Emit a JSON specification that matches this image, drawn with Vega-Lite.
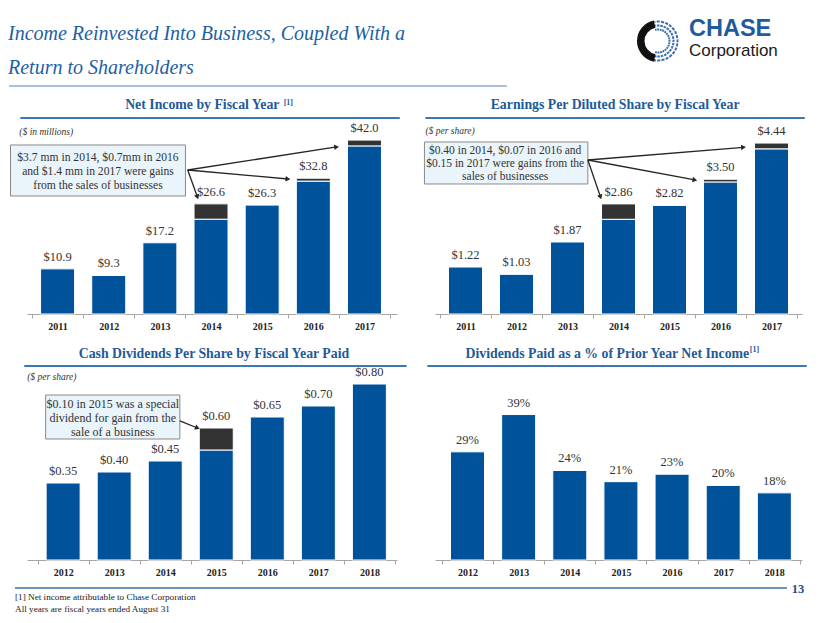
{
  "$schema": "https://vega.github.io/schema/vega-lite/v6.json",
  "padding": {"left": 7, "top": 10, "right": 4, "bottom": 4},
  "background": "white",
  "bounds": "flush",
  "columns": 2,
  "spacing": {"row": 28, "column": 38},
  "config": {
    "view": {"stroke": null},
    "font": "Liberation Serif",
    "axisX": {"domainColor": "#a6a6a6", "tickColor": "#a6a6a6", "tickSize": 4, "labelFont": "Liberation Serif", "labelFontWeight": "bold", "labelFontSize": 10, "labelColor": "#222222", "labelPadding": 3, "labelFlush": false, "labelOverlap": false, "grid": false}
  },
  "datasets": {
    "netIncome": [
      {"year": 2011, "segment": "Core", "value": 10.9},
      {"year": 2012, "segment": "Core", "value": 9.3},
      {"year": 2013, "segment": "Core", "value": 17.2},
      {"year": 2014, "segment": "Core", "value": 22.9},
      {"year": 2014, "segment": "Gain", "value": 3.7},
      {"year": 2015, "segment": "Core", "value": 26.3},
      {"year": 2016, "segment": "Core", "value": 32.1},
      {"year": 2016, "segment": "Gain", "value": 0.7},
      {"year": 2017, "segment": "Core", "value": 40.6},
      {"year": 2017, "segment": "Gain", "value": 1.4}
    ],
    "eps": [
      {"year": 2011, "segment": "Core", "value": 1.22},
      {"year": 2012, "segment": "Core", "value": 1.03},
      {"year": 2013, "segment": "Core", "value": 1.87},
      {"year": 2014, "segment": "Core", "value": 2.46},
      {"year": 2014, "segment": "Gain", "value": 0.40},
      {"year": 2015, "segment": "Core", "value": 2.82},
      {"year": 2016, "segment": "Core", "value": 3.43},
      {"year": 2016, "segment": "Gain", "value": 0.07},
      {"year": 2017, "segment": "Core", "value": 4.29},
      {"year": 2017, "segment": "Gain", "value": 0.15}
    ],
    "dividends": [
      {"year": 2012, "segment": "Regular", "value": 0.35},
      {"year": 2013, "segment": "Regular", "value": 0.40},
      {"year": 2014, "segment": "Regular", "value": 0.45},
      {"year": 2015, "segment": "Regular", "value": 0.50},
      {"year": 2015, "segment": "Special", "value": 0.10},
      {"year": 2016, "segment": "Regular", "value": 0.65},
      {"year": 2017, "segment": "Regular", "value": 0.70},
      {"year": 2018, "segment": "Regular", "value": 0.80}
    ],
    "payout": [
      {"year": 2012, "payout": 0.29},
      {"year": 2013, "payout": 0.39},
      {"year": 2014, "payout": 0.24},
      {"year": 2015, "payout": 0.21},
      {"year": 2016, "payout": 0.23},
      {"year": 2017, "payout": 0.20},
      {"year": 2018, "payout": 0.18}
    ]
  },
  "concat": [
    {
      "width": 370,
      "height": 80,
      "layer": [
        {"data": {"values": [{}]}, "mark": {"type": "rule", "color": "#a7c2df", "strokeWidth": 2},
         "encoding": {"x": {"datum": -0.0486, "scale": {"domain": [0, 1], "nice": false, "zero": false}, "axis": null}, "x2": {"datum": 1.297}, "y": {"datum": 0.05, "scale": {"domain": [0, 1], "nice": false, "zero": false}, "axis": null}}},
        {"data": {"values": [{}]}, "mark": {"type": "text", "text": "Income Reinvested Into Business, Coupled With a", "align": "left", "baseline": "alphabetic", "font": "Liberation Serif", "fontStyle": "italic", "fontSize": 20, "color": "#1e5fa3"},
         "encoding": {"x": {"datum": -0.0514, "axis": null}, "y": {"datum": 0.625, "axis": null}}},
        {"data": {"values": [{}]}, "mark": {"type": "text", "text": "Return to Shareholders", "align": "left", "baseline": "alphabetic", "font": "Liberation Serif", "fontStyle": "italic", "fontSize": 20, "color": "#1e5fa3"},
         "encoding": {"x": {"datum": -0.0514, "axis": null}, "y": {"datum": 0.2, "axis": null}}}
      ]
    },
    {
      "width": 367,
      "height": 80,
      "layer": [
        {"data": {"values": [{}]}, "mark": {"type": "arc", "theta": -0.1745, "theta2": 3.3162, "radius": 19.505, "radius2": 19.495, "filled": false, "color": "#3b6fb0", "strokeWidth": 2, "strokeDash": [2, 2.254], "strokeDashOffset": 1},
         "encoding": {"x": {"datum": 0.6076, "scale": {"domain": [0, 1], "nice": false, "zero": false}, "axis": null}, "y": {"datum": 0.6125, "scale": {"domain": [0, 1], "nice": false, "zero": false}, "axis": null}}},
        {"data": {"values": [{}]}, "mark": {"type": "arc", "theta": -0.1745, "theta2": 3.3162, "radius": 15.505, "radius2": 15.495, "filled": false, "color": "#3b6fb0", "strokeWidth": 2, "strokeDash": [1.7, 1.682], "strokeDashOffset": 0.85},
         "encoding": {"x": {"datum": 0.6076, "axis": null}, "y": {"datum": 0.6125, "axis": null}}},
        {"data": {"values": [{}]}, "mark": {"type": "arc", "theta": -0.1745, "theta2": 3.3162, "radius": 11.505, "radius2": 11.495, "filled": false, "color": "#3b6fb0", "strokeWidth": 2, "strokeDash": [1.3, 1.209], "strokeDashOffset": 0.65},
         "encoding": {"x": {"datum": 0.6076, "axis": null}, "y": {"datum": 0.6125, "axis": null}}},
        {"data": {"values": [{}]}, "mark": {"type": "arc", "theta": 3.33, "theta2": 6.09, "radius": 21, "radius2": 13.5, "color": "#111111"},
         "encoding": {"x": {"datum": 0.6076, "axis": null}, "y": {"datum": 0.6125, "axis": null}}},
        {"data": {"values": [{}]}, "mark": {"type": "text", "text": "CHASE", "align": "left", "baseline": "alphabetic", "font": "Liberation Sans", "fontWeight": "bold", "fontSize": 23.5, "color": "#1f5c9e"},
         "encoding": {"x": {"datum": 0.6921, "axis": null}, "y": {"datum": 0.67, "axis": null}}},
        {"data": {"values": [{}]}, "mark": {"type": "text", "text": "Corporation", "align": "left", "baseline": "alphabetic", "font": "Liberation Sans", "fontSize": 17, "color": "#1a1a1a"},
         "encoding": {"x": {"datum": 0.6921, "axis": null}, "y": {"datum": 0.42, "axis": null}}}
      ]
    },
    {
      "width": 370,
      "height": 196,
      "resolve": {"axis": {"x": "independent"}},
      "layer": [
        {"data": {"name": "netIncome"},
         "mark": {"type": "bar", "orient": "vertical", "size": 34, "stroke": "white", "strokeWidth": 1},
         "encoding": {
           "x": {"field": "year", "type": "quantitative", "scale": {"domain": [2010.5, 2017.538], "nice": false, "zero": false},
                 "axis": {"title": null, "orient": "bottom", "values": [2010.5, 2011, 2011.5, 2012, 2012.5, 2013, 2013.5, 2014, 2014.5, 2015, 2015.5, 2016, 2016.5, 2017, 2017.5], "labelExpr": "datum.value % 1 === 0 ? format(datum.value, 'd') : ''", "tickOpacity": {"condition": {"test": "datum.value % 1 !== 0", "value": 1}, "value": 0}}},
           "y": {"field": "value", "type": "quantitative", "stack": "zero", "scale": {"domain": [0, 47.34], "nice": false}, "axis": null},
           "color": {"field": "segment", "type": "nominal", "scale": {"domain": ["Core", "Gain"], "range": ["#00539b", "#333333"]}, "legend": null},
           "order": {"field": "segment", "type": "ordinal", "sort": "ascending"}
         }},
        {"data": {"name": "netIncome"},
         "transform": [{"aggregate": [{"op": "sum", "field": "value", "as": "total"}], "groupby": ["year"]}],
         "mark": {"type": "text", "baseline": "alphabetic", "dy": -8, "fontSize": 12.5, "color": "#333333"},
         "encoding": {
           "x": {"field": "year", "type": "quantitative", "axis": null},
           "y": {"field": "total", "type": "quantitative", "axis": null},
           "text": {"field": "total", "type": "quantitative", "format": "$.1f"}
         }},
        {"data": {"values": [{}]}, "mark": {"type": "text", "text": "Net Income by Fiscal Year", "align": "center", "baseline": "alphabetic", "fontSize": 13.8, "fontWeight": "bold", "color": "#1f5a99"},
         "encoding": {"x": {"datum": 2013.829, "axis": null}, "y": {"datum": 49.51, "axis": null}}},
        {"data": {"values": [{}]}, "mark": {"type": "text", "text": "[1]", "align": "left", "baseline": "alphabetic", "fontSize": 8, "fontWeight": "bold", "color": "#1f5a99"},
         "encoding": {"x": {"datum": 2015.42, "axis": null}, "y": {"datum": 50.48, "axis": null}}},
        {"data": {"values": [{}]}, "mark": {"type": "rule", "color": "#3b78b9", "strokeWidth": 2},
         "encoding": {"x": {"datum": 2010.272, "axis": null}, "x2": {"datum": 2017.69}, "y": {"datum": 47.34, "axis": null}}},
        {"data": {"values": [{}]}, "mark": {"type": "text", "text": "($ in millions)", "align": "left", "baseline": "alphabetic", "fontSize": 9.5, "fontStyle": "italic", "color": "#333333"},
         "encoding": {"x": {"datum": 2010.253, "axis": null}, "y": {"datum": 43.24, "axis": null}}},
        {"data": {"values": [{}]}, "mark": {"type": "rect", "fill": "#eaf4fb", "stroke": "#8a8a8a", "strokeWidth": 1},
         "encoding": {"x": {"datum": 2010.08, "axis": null}, "x2": {"datum": 2013.5}, "y": {"datum": 40.82, "axis": null}, "y2": {"datum": 28.5}}},
        {"data": {"values": [{}]}, "mark": {"type": "text", "text": ["$3.7 mm in 2014, $0.7mm in 2016", "and $1.4 mm in 2017 were gains", "from the sales of businesses"], "align": "center", "baseline": "middle", "lineHeight": 14, "fontSize": 11.6, "color": "#333333"},
         "encoding": {"x": {"datum": 2011.79, "axis": null}, "y": {"datum": 37.68, "axis": null}}},
        {"data": {"values": [{}]}, "mark": {"type": "rule", "color": "#262626", "strokeWidth": 1.3},
         "encoding": {"x": {"datum": 2013.544, "axis": null}, "y": {"datum": 34.78, "axis": null}, "x2": {"datum": 2016.454}, "y2": {"datum": 40.34}}},
        {"data": {"values": [{}]}, "mark": {"type": "rule", "color": "#262626", "strokeWidth": 1.3},
         "encoding": {"x": {"datum": 2013.544, "axis": null}, "y": {"datum": 34.78, "axis": null}, "x2": {"datum": 2015.503}, "y2": {"datum": 32.61}}},
        {"data": {"values": [{}]}, "mark": {"type": "rule", "color": "#262626", "strokeWidth": 1.3},
         "encoding": {"x": {"datum": 2013.544, "axis": null}, "y": {"datum": 34.78, "axis": null}, "x2": {"datum": 2013.734}, "y2": {"datum": 28.26}}},
        {"data": {"values": [{}]}, "mark": {"type": "point", "shape": "triangle-up", "filled": true, "size": 30, "angle": 81.5, "color": "#262626", "opacity": 1},
         "encoding": {"x": {"datum": 2016.454, "axis": null}, "y": {"datum": 40.34, "axis": null}}},
        {"data": {"values": [{}]}, "mark": {"type": "point", "shape": "triangle-up", "filled": true, "size": 30, "angle": 95, "color": "#262626", "opacity": 1},
         "encoding": {"x": {"datum": 2015.503, "axis": null}, "y": {"datum": 32.61, "axis": null}}},
        {"data": {"values": [{}]}, "mark": {"type": "point", "shape": "triangle-up", "filled": true, "size": 30, "angle": 159.7, "color": "#262626", "opacity": 1},
         "encoding": {"x": {"datum": 2013.734, "axis": null}, "y": {"datum": 28.26, "axis": null}}}
      ]
    },
    {
      "width": 367,
      "height": 196,
      "resolve": {"axis": {"x": "independent"}},
      "layer": [
        {"data": {"name": "eps"},
         "mark": {"type": "bar", "orient": "vertical", "size": 34, "stroke": "white", "strokeWidth": 1},
         "encoding": {
           "x": {"field": "year", "type": "quantitative", "scale": {"domain": [2010.5, 2017.5], "nice": false, "zero": false},
                 "axis": {"title": null, "orient": "bottom", "values": [2010.5, 2011, 2011.5, 2012, 2012.5, 2013, 2013.5, 2014, 2014.5, 2015, 2015.5, 2016, 2016.5, 2017, 2017.5], "labelExpr": "datum.value % 1 === 0 ? format(datum.value, 'd') : ''", "tickOpacity": {"condition": {"test": "datum.value % 1 !== 0", "value": 1}, "value": 0}}},
           "y": {"field": "value", "type": "quantitative", "stack": "zero", "scale": {"domain": [0, 5.091], "nice": false}, "axis": null},
           "color": {"field": "segment", "type": "nominal", "scale": {"domain": ["Core", "Gain"], "range": ["#00539b", "#333333"]}, "legend": null},
           "order": {"field": "segment", "type": "ordinal", "sort": "ascending"}
         }},
        {"data": {"name": "eps"},
         "transform": [{"aggregate": [{"op": "sum", "field": "value", "as": "total"}], "groupby": ["year"]}],
         "mark": {"type": "text", "baseline": "alphabetic", "dy": -8, "fontSize": 12.5, "color": "#333333"},
         "encoding": {
           "x": {"field": "year", "type": "quantitative", "axis": null},
           "y": {"field": "total", "type": "quantitative", "axis": null},
           "text": {"field": "total", "type": "quantitative", "format": "$.2f"}
         }},
        {"data": {"values": [{}]}, "mark": {"type": "text", "text": "Earnings Per Diluted Share by Fiscal Year", "align": "center", "baseline": "alphabetic", "fontSize": 13.8, "fontWeight": "bold", "color": "#1f5a99"},
         "encoding": {"x": {"datum": 2013.933, "axis": null}, "y": {"datum": 5.325, "axis": null}}},
        {"data": {"values": [{}]}, "mark": {"type": "rule", "color": "#3b78b9", "strokeWidth": 2},
         "encoding": {"x": {"datum": 2010.214, "axis": null}, "x2": {"datum": 2017.652}, "y": {"datum": 5.091, "axis": null}}},
        {"data": {"values": [{}]}, "mark": {"type": "text", "text": "($ per share)", "align": "left", "baseline": "alphabetic", "fontSize": 9.5, "fontStyle": "italic", "color": "#333333"},
         "encoding": {"x": {"datum": 2010.214, "axis": null}, "y": {"datum": 4.675, "axis": null}}},
        {"data": {"values": [{}]}, "mark": {"type": "rect", "fill": "#eaf4fb", "stroke": "#8a8a8a", "strokeWidth": 1},
         "encoding": {"x": {"datum": 2010.195, "axis": null}, "x2": {"datum": 2013.399}, "y": {"datum": 4.468, "axis": null}, "y2": {"datum": 3.377}}},
        {"data": {"values": [{}]}, "mark": {"type": "text", "text": ["$0.40 in 2014, $0.07 in 2016 and", "$0.15 in 2017 were gains from the", "sales of businesses"], "align": "center", "baseline": "middle", "lineHeight": 13, "fontSize": 11.5, "color": "#333333"},
         "encoding": {"x": {"datum": 2011.778, "axis": null}, "y": {"datum": 4.234, "axis": null}}},
        {"data": {"values": [{}]}, "mark": {"type": "rule", "color": "#262626", "strokeWidth": 1.3},
         "encoding": {"x": {"datum": 2013.399, "axis": null}, "y": {"datum": 4.0, "axis": null}, "x2": {"datum": 2016.451}, "y2": {"datum": 4.33}}},
        {"data": {"values": [{}]}, "mark": {"type": "rule", "color": "#262626", "strokeWidth": 1.3},
         "encoding": {"x": {"datum": 2013.399, "axis": null}, "y": {"datum": 4.0, "axis": null}, "x2": {"datum": 2015.497}, "y2": {"datum": 3.481}}},
        {"data": {"values": [{}]}, "mark": {"type": "rule", "color": "#262626", "strokeWidth": 1.3},
         "encoding": {"x": {"datum": 2013.399, "axis": null}, "y": {"datum": 4.0, "axis": null}, "x2": {"datum": 2013.647}, "y2": {"datum": 3.039}}},
        {"data": {"values": [{}]}, "mark": {"type": "point", "shape": "triangle-up", "filled": true, "size": 30, "angle": 85.5, "color": "#262626", "opacity": 1},
         "encoding": {"x": {"datum": 2016.451, "axis": null}, "y": {"datum": 4.33, "axis": null}}},
        {"data": {"values": [{}]}, "mark": {"type": "point", "shape": "triangle-up", "filled": true, "size": 30, "angle": 100.3, "color": "#262626", "opacity": 1},
         "encoding": {"x": {"datum": 2015.497, "axis": null}, "y": {"datum": 3.481, "axis": null}}},
        {"data": {"values": [{}]}, "mark": {"type": "point", "shape": "triangle-up", "filled": true, "size": 30, "angle": 160.6, "color": "#262626", "opacity": 1},
         "encoding": {"x": {"datum": 2013.647, "axis": null}, "y": {"datum": 3.039, "axis": null}}}
      ]
    },
    {
      "width": 370,
      "height": 218,
      "resolve": {"axis": {"x": "independent"}},
      "layer": [
        {"data": {"name": "dividends"},
         "mark": {"type": "bar", "orient": "vertical", "size": 34, "stroke": "white", "strokeWidth": 1},
         "encoding": {
           "x": {"field": "year", "type": "quantitative", "scale": {"domain": [2011.39, 2018.443], "nice": false, "zero": false},
                 "axis": {"title": null, "orient": "bottom", "values": [2011.5, 2012, 2012.5, 2013, 2013.5, 2014, 2014.5, 2015, 2015.5, 2016, 2016.5, 2017, 2017.5, 2018, 2018.5], "labelExpr": "datum.value % 1 === 0 ? format(datum.value, 'd') : ''", "tickOpacity": {"condition": {"test": "datum.value % 1 !== 0", "value": 1}, "value": 0}}},
           "y": {"field": "value", "type": "quantitative", "stack": "zero", "scale": {"domain": [0, 0.991], "nice": false}, "axis": null},
           "color": {"field": "segment", "type": "nominal", "scale": {"domain": ["Regular", "Special"], "range": ["#00539b", "#333333"]}, "legend": null},
           "order": {"field": "segment", "type": "ordinal", "sort": "ascending"}
         }},
        {"data": {"name": "dividends"},
         "transform": [{"aggregate": [{"op": "sum", "field": "value", "as": "total"}], "groupby": ["year"]}],
         "mark": {"type": "text", "baseline": "alphabetic", "dy": -8, "fontSize": 12.5, "color": "#333333"},
         "encoding": {
           "x": {"field": "year", "type": "quantitative", "axis": null},
           "y": {"field": "total", "type": "quantitative", "axis": null},
           "text": {"field": "total", "type": "quantitative", "format": "$.2f"}
         }},
        {"data": {"values": [{}]}, "mark": {"type": "text", "text": "Cash Dividends Per Share by Fiscal Year Paid", "align": "center", "baseline": "alphabetic", "fontSize": 13.8, "fontWeight": "bold", "color": "#1f5a99"},
         "encoding": {"x": {"datum": 2014.955, "axis": null}, "y": {"datum": 0.918, "axis": null}}},
        {"data": {"values": [{}]}, "mark": {"type": "rule", "color": "#3b78b9", "strokeWidth": 2},
         "encoding": {"x": {"datum": 2011.238, "axis": null}, "x2": {"datum": 2018.729}, "y": {"datum": 0.882, "axis": null}}},
        {"data": {"values": [{}]}, "mark": {"type": "text", "text": "($ per share)", "align": "left", "baseline": "alphabetic", "fontSize": 9.5, "fontStyle": "italic", "color": "#333333"},
         "encoding": {"x": {"datum": 2011.295, "axis": null}, "y": {"datum": 0.818, "axis": null}}},
        {"data": {"values": [{}]}, "mark": {"type": "rect", "fill": "#eaf4fb", "stroke": "#8a8a8a", "strokeWidth": 1},
         "encoding": {"x": {"datum": 2011.657, "axis": null}, "x2": {"datum": 2014.287}, "y": {"datum": 0.75, "axis": null}, "y2": {"datum": 0.55}}},
        {"data": {"values": [{}]}, "mark": {"type": "text", "text": ["$0.10 in 2015 was a special", "dividend for gain from the", "sale of a business"], "align": "center", "baseline": "middle", "lineHeight": 14, "fontSize": 12, "color": "#333333"},
         "encoding": {"x": {"datum": 2012.972, "axis": null}, "y": {"datum": 0.709, "axis": null}}},
        {"data": {"values": [{}]}, "mark": {"type": "rule", "color": "#262626", "strokeWidth": 1.3},
         "encoding": {"x": {"datum": 2014.287, "axis": null}, "y": {"datum": 0.632, "axis": null}, "x2": {"datum": 2014.631}, "y2": {"datum": 0.6}}},
        {"data": {"values": [{}]}, "mark": {"type": "point", "shape": "triangle-up", "filled": true, "size": 30, "angle": 111, "color": "#262626", "opacity": 1},
         "encoding": {"x": {"datum": 2014.631, "axis": null}, "y": {"datum": 0.6, "axis": null}}}
      ]
    },
    {
      "width": 367,
      "height": 218,
      "resolve": {"axis": {"x": "independent"}},
      "layer": [
        {"data": {"name": "payout"},
         "mark": {"type": "bar", "orient": "vertical", "size": 34, "stroke": "white", "strokeWidth": 1, "color": "#00539b"},
         "encoding": {
           "x": {"field": "year", "type": "quantitative", "scale": {"domain": [2011.462, 2018.443], "nice": false, "zero": false},
                 "axis": {"title": null, "orient": "bottom", "values": [2011.5, 2012, 2012.5, 2013, 2013.5, 2014, 2014.5, 2015, 2015.5, 2016, 2016.5, 2017, 2017.5, 2018, 2018.5], "labelExpr": "datum.value % 1 === 0 ? format(datum.value, 'd') : ''", "tickOpacity": {"condition": {"test": "datum.value % 1 !== 0", "value": 1}, "value": 0}}},
           "y": {"field": "payout", "type": "quantitative", "scale": {"domain": [0, 0.5845], "nice": false}, "axis": null}
         }},
        {"data": {"name": "payout"},
         "mark": {"type": "text", "baseline": "alphabetic", "dy": -8, "fontSize": 12.5, "color": "#333333"},
         "encoding": {
           "x": {"field": "year", "type": "quantitative", "axis": null},
           "y": {"field": "payout", "type": "quantitative", "axis": null},
           "text": {"field": "payout", "type": "quantitative", "format": ".0%"}
         }},
        {"data": {"values": [{}]}, "mark": {"type": "text", "text": "Dividends Paid as a % of Prior Year Net Income", "align": "center", "baseline": "alphabetic", "fontSize": 13.8, "fontWeight": "bold", "color": "#1f5a99"},
         "encoding": {"x": {"datum": 2014.734, "axis": null}, "y": {"datum": 0.5416, "axis": null}}},
        {"data": {"values": [{}]}, "mark": {"type": "text", "text": "[1]", "align": "left", "baseline": "alphabetic", "fontSize": 8, "fontWeight": "bold", "color": "#1f5a99"},
         "encoding": {"x": {"datum": 2017.52, "axis": null}, "y": {"datum": 0.5576, "axis": null}}},
        {"data": {"values": [{}]}, "mark": {"type": "rule", "color": "#3b78b9", "strokeWidth": 2},
         "encoding": {"x": {"datum": 2011.215, "axis": null}, "x2": {"datum": 2018.633}, "y": {"datum": 0.5201, "axis": null}}}
      ]
    },
    {
      "width": 370,
      "height": 28,
      "layer": [
        {"data": {"values": [{}]}, "mark": {"type": "rule", "color": "#3b6ea8", "strokeWidth": 1.5},
         "encoding": {"x": {"datum": -0.0324, "scale": {"domain": [0, 1], "nice": false, "zero": false}, "axis": null}, "x2": {"datum": 2.054}, "y": {"datum": 1, "scale": {"domain": [0, 1], "nice": false, "zero": false}, "axis": null}}},
        {"data": {"values": [{}]}, "mark": {"type": "text", "text": "13", "align": "center", "baseline": "middle", "fontSize": 12.5, "fontWeight": "bold", "color": "#1f4e8a"},
         "encoding": {"x": {"datum": 2.0838, "axis": null}, "y": {"datum": 0.964, "axis": null}}},
        {"data": {"values": [{}]}, "mark": {"type": "text", "text": "[1] Net income attributable to Chase Corporation", "align": "left", "baseline": "alphabetic", "fontSize": 9.2, "color": "#1a1a1a"},
         "encoding": {"x": {"datum": -0.0324, "axis": null}, "y": {"datum": 0.571, "axis": null}}},
        {"data": {"values": [{}]}, "mark": {"type": "text", "text": "All years are fiscal years ended August 31", "align": "left", "baseline": "alphabetic", "fontSize": 9.2, "color": "#1a1a1a"},
         "encoding": {"x": {"datum": -0.0324, "axis": null}, "y": {"datum": 0.143, "axis": null}}}
      ]
    }
  ]
}
